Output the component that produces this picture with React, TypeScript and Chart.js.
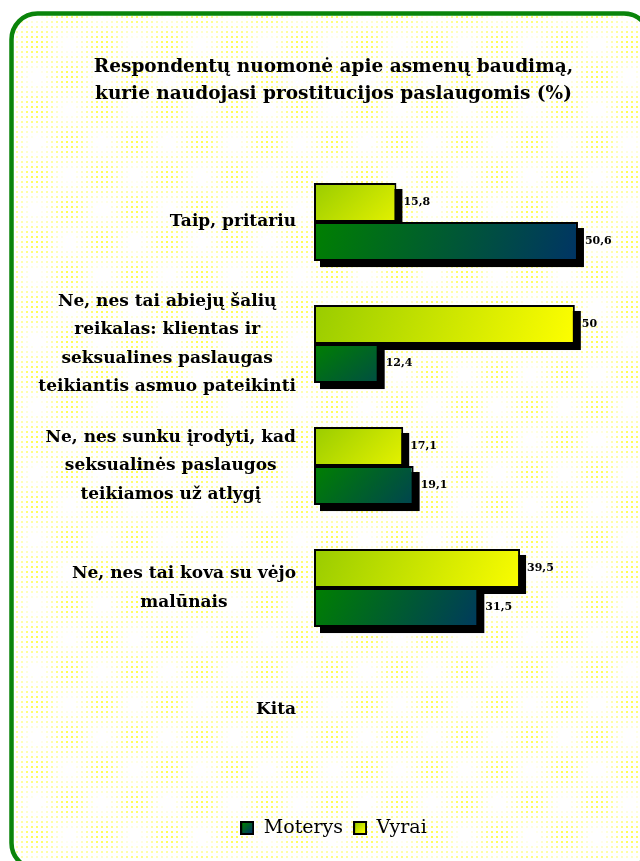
import { useEffect, useRef } from 'react';
import { Chart, registerables } from 'chart.js';

Chart.register(...registerables);

const titleLines = [
  'Respondentų nuomonė apie asmenų baudimą,',
  'kurie naudojasi prostitucijos paslaugomis (%)',
];

const categoryLines: string[][] = [
  ['Taip, pritariu'],
  ['Ne, nes tai abiejų šalių', 'reikalas: klientas ir', 'seksualines paslaugas', 'teikiantis asmuo pateikinti'],
  ['Ne, nes sunku įrodyti, kad', 'seksualinės paslaugos', 'teikiamos už atlygį'],
  ['Ne, nes tai kova su vėjo', 'malūnais'],
  ['Kita'],
];
const categories = categoryLines.map((l) => l.join(' '));

const vyraiValues: (number | null)[] = [15.8, 50, 17.1, 39.5, null];
const moterysValues: (number | null)[] = [50.6, 12.4, 19.1, 31.5, null];

const seriesNames = ['Vyrai', 'Moterys'];
const legendOrder = ['Moterys', 'Vyrai'];

const axisMin = 0;
const axisMax = 60;

const VYRAI_C0 = '#99cc00';
const VYRAI_C1 = '#ffff00';
const MOT_C0 = '#008000';
const MOT_C1 = '#003366';

const CAT_PCT = 0.64;
const SERIF = '"DejaVu Serif", serif';

function barGradient(sc: any, datasetIndex: number, c0: string, c1: string, fallback: string) {
  const chart = sc.chart;
  const xs = chart.scales?.x;
  const ys = chart.scales?.y;
  if (sc.type !== 'data' || !xs || !ys || sc.raw == null) return fallback;
  const x0 = xs.getPixelForValue(0);
  const x1 = xs.getPixelForValue(sc.raw);
  const yc = ys.getPixelForValue(sc.dataIndex);
  const thick = (ys.height / categories.length) * CAT_PCT / 2;
  const top = datasetIndex === 0 ? yc - thick : yc;
  const bottom = top + thick;
  if (!isFinite(x0) || !isFinite(x1) || !isFinite(top)) return fallback;
  const w = x1 - x0;
  const h = bottom - top;
  const g = chart.ctx.createLinearGradient(x0, top, x0 + w * 0.95, top + h * 2.2);
  g.addColorStop(0, c0);
  g.addColorStop(1, c1);
  return g;
}

function roundRectPath(ctx: CanvasRenderingContext2D, x: number, y: number, w: number, h: number, r: number) {
  ctx.beginPath();
  ctx.moveTo(x + r, y);
  ctx.lineTo(x + w - r, y);
  ctx.arcTo(x + w, y, x + w, y + r, r);
  ctx.lineTo(x + w, y + h - r);
  ctx.arcTo(x + w, y + h, x + w - r, y + h, r);
  ctx.lineTo(x + r, y + h);
  ctx.arcTo(x, y + h, x, y + h - r, r);
  ctx.lineTo(x, y + r);
  ctx.arcTo(x, y, x + r, y, r);
  ctx.closePath();
}

const backgroundPlugin = {
  id: 'framedBackground',
  beforeDraw(chart: any) {
    const ctx: CanvasRenderingContext2D = chart.ctx;
    const W = chart.width;
    const H = chart.height;
    const L = 11.5, T = 13.5, R = 650, B = 869, r = 26;
    ctx.save();
    ctx.fillStyle = '#ffffff';
    ctx.fillRect(0, 0, W, H);
    roundRectPath(ctx, L, T, R - L, B - T, r);
    ctx.clip();
    for (let y = 1; y < H; y += 5) {
      for (let x = 1; x < W; x += 5) {
        const f = (Math.cos((2 * Math.PI * (x - 530)) / 66) * Math.cos((2 * Math.PI * (y - 670)) / 66) + 1) / 2;
        const a = 0.7 * f;
        if (a < 0.06) continue;
        ctx.fillStyle = `rgba(255,255,0,${a.toFixed(3)})`;
        ctx.fillRect(x, y, 2, 2);
      }
    }
    ctx.restore();
    ctx.save();
    roundRectPath(ctx, L, T, R - L, B - T, r);
    ctx.strokeStyle = '#0a840a';
    ctx.lineWidth = 4.5;
    ctx.stroke();
    ctx.restore();
  },
};

const shadowPlugin = {
  id: 'barShadow',
  beforeDatasetsDraw(chart: any) {
    const ctx: CanvasRenderingContext2D = chart.ctx;
    ctx.save();
    ctx.fillStyle = '#000000';
    chart.data.datasets.forEach((ds: any, di: number) => {
      const meta = chart.getDatasetMeta(di);
      meta.data.forEach((el: any, i: number) => {
        if (ds.data[i] == null) return;
        const { x, y, base, height } = el.getProps(['x', 'y', 'base', 'height'], true);
        ctx.fillRect(Math.min(x, base) + 6, y - height / 2 + 6, Math.abs(x - base), height);
      });
    });
    ctx.restore();
  },
};

const valueLabelPlugin = {
  id: 'valueLabels',
  afterDatasetsDraw(chart: any) {
    const ctx: CanvasRenderingContext2D = chart.ctx;
    ctx.save();
    ctx.font = `bold 11px ${SERIF}`;
    ctx.fillStyle = '#000000';
    ctx.textAlign = 'left';
    ctx.textBaseline = 'middle';
    chart.data.datasets.forEach((ds: any, di: number) => {
      const meta = chart.getDatasetMeta(di);
      meta.data.forEach((el: any, i: number) => {
        const v = ds.data[i];
        if (v == null) return;
        const { x, y } = el.getProps(['x', 'y'], true);
        ctx.fillText(String(v).replace('.', ','), x + 7, y);
      });
    });
    ctx.restore();
  },
};

const categoryLabelPlugin = {
  id: 'categoryLabels',
  afterDraw(chart: any) {
    const ys = chart.scales.y;
    const ctx: CanvasRenderingContext2D = chart.ctx;
    ctx.save();
    ctx.font = `bold 17px ${SERIF}`;
    ctx.fillStyle = '#000000';
    ctx.textAlign = 'center';
    ctx.textBaseline = 'middle';
    const right = ys.right - 18;
    categoryLines.forEach((lines, i) => {
      const yc = ys.getPixelForValue(i);
      const w = Math.max(...lines.map((l) => ctx.measureText(l).width));
      const cx = right - w / 2;
      lines.forEach((l, k) => {
        ctx.fillText(l, cx, yc + (k - (lines.length - 1) / 2) * 28.5);
      });
    });
    ctx.restore();
  },
};

function swatch(c0: string, c1: string) {
  const cv = document.createElement('canvas');
  cv.width = 14;
  cv.height = 14;
  const g = cv.getContext('2d')!;
  g.fillStyle = '#000';
  g.fillRect(0, 0, 14, 14);
  const gr = g.createLinearGradient(2, 2, 12, 12);
  gr.addColorStop(0, c0);
  gr.addColorStop(1, c1);
  g.fillStyle = gr;
  g.fillRect(2, 2, 10, 10);
  return cv;
}

export default function App() {
  const ref = useRef<HTMLCanvasElement>(null);

  useEffect(() => {
    if (!ref.current) return;
    const swM = swatch(MOT_C0, MOT_C1);
    const swV = swatch(VYRAI_C0, VYRAI_C1);
    const chart = new Chart(ref.current, {
      type: 'bar',
      data: {
        labels: categories,
        datasets: [
          {
            label: seriesNames[0],
            data: vyraiValues,
            backgroundColor: (c: any) => barGradient(c, 0, VYRAI_C0, VYRAI_C1, '#ddee00'),
            borderColor: '#000000',
            borderWidth: 2,
            borderSkipped: false,
            categoryPercentage: CAT_PCT,
            barPercentage: 1,
          },
          {
            label: seriesNames[1],
            data: moterysValues,
            backgroundColor: (c: any) => barGradient(c, 1, MOT_C0, MOT_C1, '#005a4a'),
            borderColor: '#000000',
            borderWidth: 2,
            borderSkipped: false,
            categoryPercentage: CAT_PCT,
            barPercentage: 1,
          },
        ] as any,
      },
      options: {
        indexAxis: 'y',
        responsive: false,
        animation: false,
        events: [],
        layout: { padding: { left: 40, right: 13, top: 0, bottom: 13.5 } },
        scales: {
          x: {
            min: axisMin,
            max: axisMax,
            display: true,
            grid: { display: false },
            border: { display: false },
            ticks: { display: false },
            afterFit: (s: any) => {
              s.height = 37.5;
            },
          },
          y: {
            display: true,
            grid: { display: false },
            border: { display: false },
            ticks: { display: false },
            afterFit: (s: any) => {
              s.width = 274;
            },
          },
        },
        plugins: {
          title: {
            display: true,
            text: titleLines,
            color: '#000000',
            font: { family: SERIF, size: 18.5, weight: 'bold', lineHeight: 1.46 },
            padding: { top: 53.5, bottom: 53.5 },
          },
          legend: {
            display: true,
            position: 'bottom',
            align: 'center',
            labels: {
              usePointStyle: true,
              boxWidth: 14,
              boxHeight: 14,
              padding: 10,
              color: '#000000',
              font: { family: SERIF, size: 19 },
              generateLabels: () =>
                legendOrder.map((name) => ({
                  text: name,
                  pointStyle: name === 'Moterys' ? swM : swV,
                  fillStyle: name === 'Moterys' ? '#005a4a' : '#ddee00',
                  strokeStyle: '#000',
                  lineWidth: 0,
                  hidden: false,
                  datasetIndex: seriesNames.indexOf(name),
                  fontColor: '#000000',
                })) as any,
            },
          },
          tooltip: { enabled: false },
        },
      },
      plugins: [backgroundPlugin, shadowPlugin, valueLabelPlugin, categoryLabelPlugin],
    } as any);
    return () => chart.destroy();
  }, []);

  return (
    <div style={{ position: 'fixed', left: 0, top: 0, width: 640, height: 861, overflow: 'hidden' }}>
      <canvas ref={ref} width={640} height={861} style={{ display: 'block' }} />
    </div>
  );
}
